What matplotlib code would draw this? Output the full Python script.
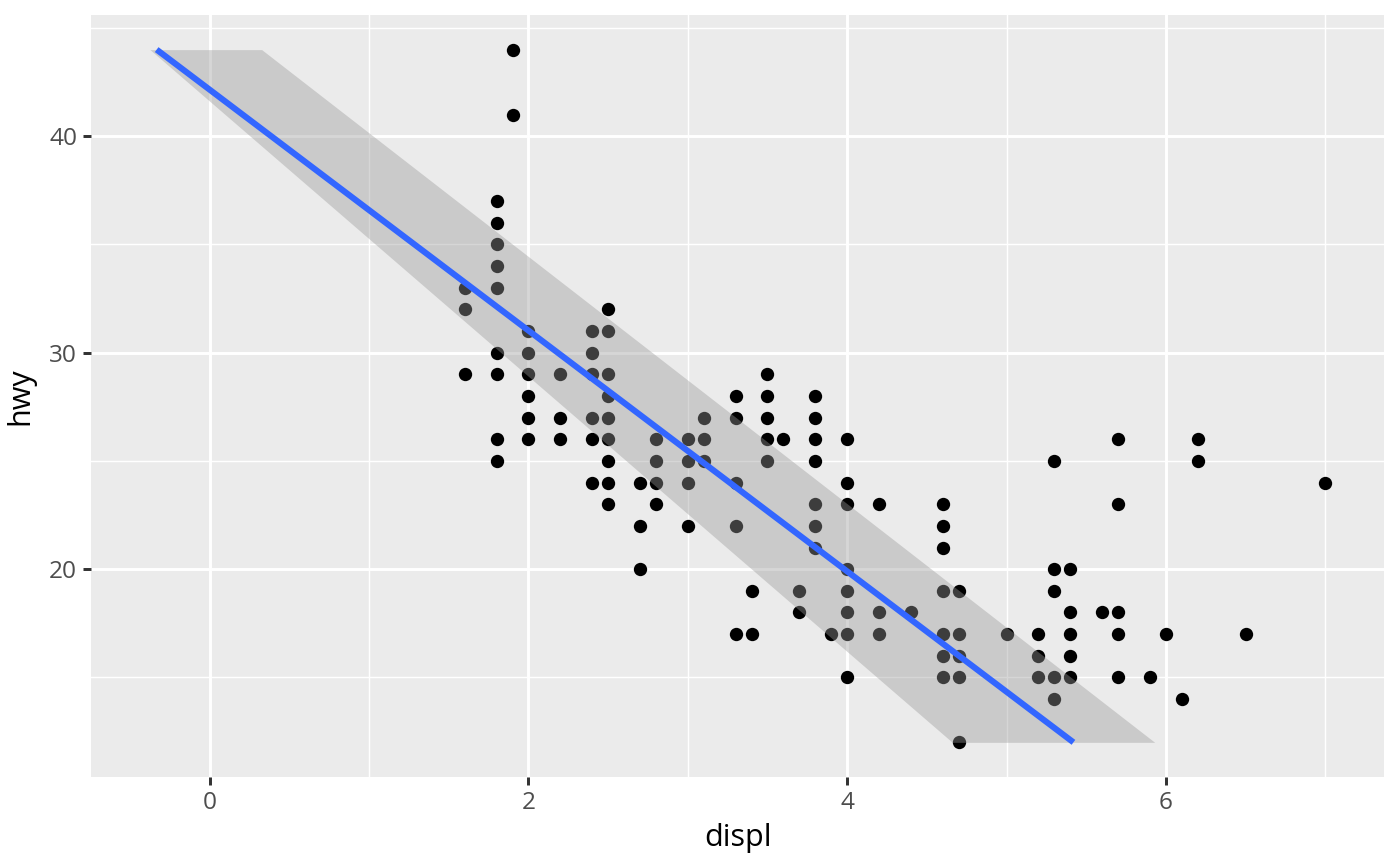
import numpy as np
import matplotlib.pyplot as plt
from matplotlib.ticker import MultipleLocator

# unique (displ, hwy) pairs
displ_groups = {
    1.6: [33, 32, 29],
    1.8: [37, 36, 35, 34, 33, 30, 29, 26, 25],
    1.9: [44, 41],
    2.0: [31, 30, 29, 28, 27, 26],
    2.2: [29, 27, 26],
    2.4: [31, 30, 29, 27, 26, 24],
    2.5: [32, 31, 29, 28, 27, 26, 25, 24, 23],
    2.7: [24, 22, 20],
    2.8: [26, 25, 24, 23],
    3.0: [26, 25, 24, 22],
    3.1: [27, 26, 25],
    3.3: [28, 27, 24, 22, 17],
    3.4: [19, 17],
    3.5: [29, 28, 27, 26, 25],
    3.6: [26],
    3.7: [19, 18],
    3.8: [28, 27, 26, 25, 23, 22, 21],
    3.9: [17],
    4.0: [26, 24, 23, 20, 19, 18, 17, 15],
    4.2: [23, 18, 17],
    4.4: [18],
    4.6: [23, 22, 21, 19, 17, 16, 15],
    4.7: [19, 17, 16, 15, 12],
    5.0: [17],
    5.2: [17, 16, 15],
    5.3: [25, 20, 19, 15, 14],
    5.4: [20, 18, 17, 16, 15],
    5.6: [18],
    5.7: [26, 23, 18, 17, 15],
    5.9: [15],
    6.0: [17],
    6.1: [14],
    6.2: [26, 25],
    6.5: [17],
    7.0: [24],
}
displ = [d for d, hs in displ_groups.items() for _ in hs]
hwy = [h for hs in displ_groups.values() for h in hs]

# smoother line and ribbon (in x direction), read at hwy = 12 and 44
fit_hwy = [12, 44]
fit_displ = [5.42, -0.333]
band_lo = [4.66, -0.375]
band_hi = [5.93, 0.326]

plt.rcParams["font.family"] = ["Open Sans", "DejaVu Sans"]

fig = plt.figure(figsize=(7, 4.33), dpi=200)
ax = fig.add_axes([0.065, 0.1028, 0.9236, 0.8799])
ax.set_facecolor("#EBEBEB")
for s in ax.spines.values():
    s.set_visible(False)

ax.scatter(displ, hwy, s=23, color="black", linewidths=0, zorder=3)
ax.fill_betweenx(fit_hwy, band_lo, band_hi, color="#999999", alpha=0.4,
                 linewidth=0, zorder=4)
ax.plot(fit_displ, fit_hwy, color="#3366FF", lw=2.2, zorder=5,
        solid_capstyle="butt")

ax.set_xlim(-0.745, 7.369)
ax.set_ylim(10.4, 45.6)
ax.xaxis.set_major_locator(MultipleLocator(2))
ax.xaxis.set_minor_locator(MultipleLocator(1))
ax.yaxis.set_major_locator(MultipleLocator(10))
ax.yaxis.set_minor_locator(MultipleLocator(5))
ax.grid(which="major", color="white", lw=1.07)
ax.grid(which="minor", color="white", lw=0.53)
ax.set_axisbelow(True)
ax.tick_params(which="major", length=2.75, width=1.07, color="#333333",
               labelcolor="#4D4D4D", labelsize=8.8, pad=2.2)
ax.tick_params(which="minor", length=0)

ax.set_xlabel("displ", fontsize=11, labelpad=3)
ax.set_ylabel("hwy", fontsize=11, labelpad=5)

fig.savefig("out.png", dpi=200)
